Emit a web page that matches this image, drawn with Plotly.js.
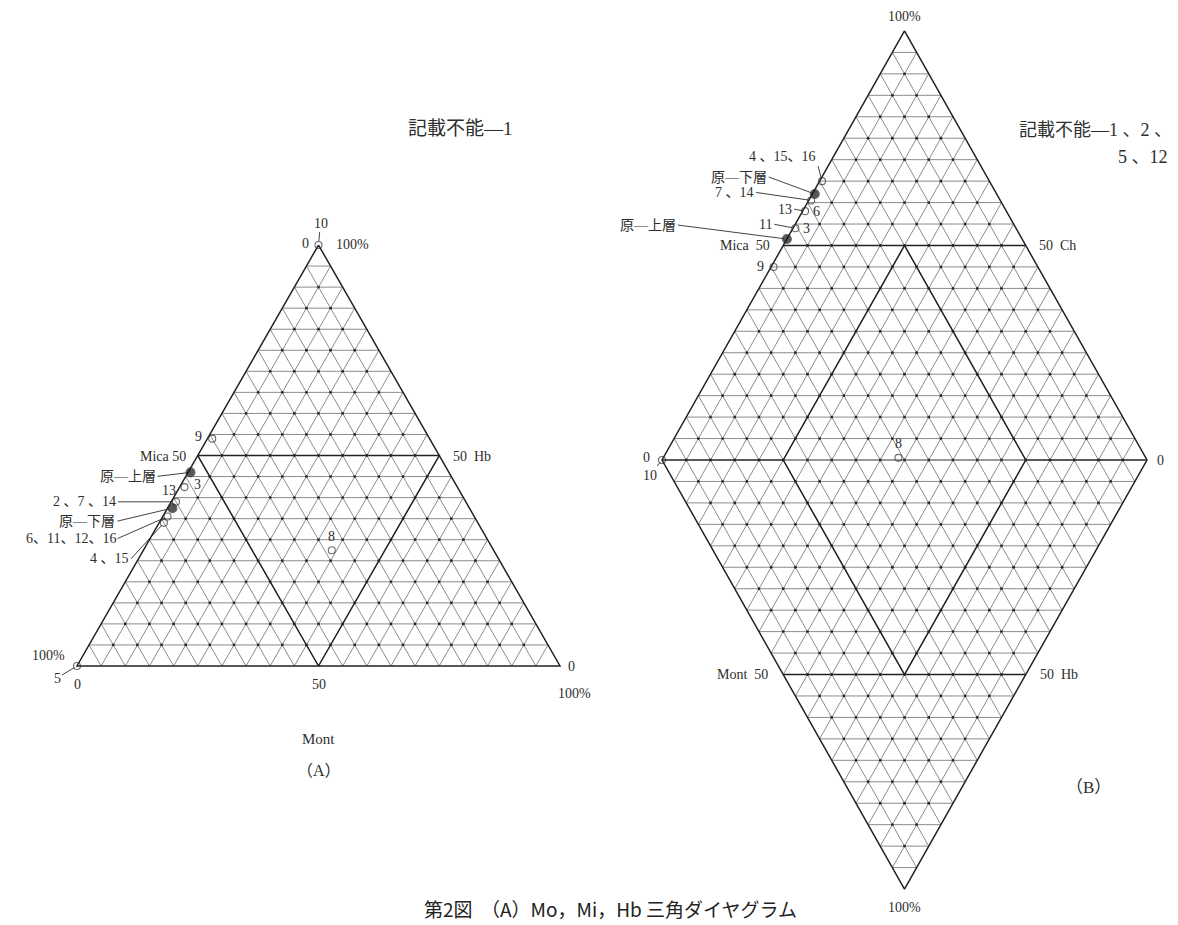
<!DOCTYPE html>
<html>
<head>
<meta charset="utf-8">
<script src="https://cdn.plot.ly/plotly-3.0.1.min.js"></script>
<style>
  html, body { margin: 0; padding: 0; background: #fff; }
  #chart { width: 1178px; height: 925px; }
</style>
</head>
<body>
<div id="chart"></div>
<script>
// (A) Mont - Mica - Hb triangle, %
const aNames = ['10', '9', '原―上層', '13・3', '2 、7 、14', '原―下層', '6、11、12、16', '4 、15', '5', '8'];
const aMica = [0, 45, 53.5, 56.5, 60, 61.5, 63.5, 65, 100, 33.5];
const aHb   = [100, 54, 46, 42.5, 39, 37.5, 35.5, 34, 0, 27.5];
const aMont = [0, 1, 0.5, 1, 1, 1, 1, 1, 0, 39];

// (B) diamond, upper triangle shares: top vertex / left vertex / right vertex
const bNames = ['4 、15、16', '原―下層', '7 、14', '13・6', '11・3', '原―上層', '9', '8', '10'];
const bTop   = [65, 62, 60.5, 58, 54, 51.5, 45, 0.5, 0];
const bLeft  = [34.5, 37.5, 39, 41.5, 45.5, 48.5, 54.5, 51, 100];
const bRight = [0.5, 0.5, 0.5, 0.5, 0.5, 0, 0.5, 48.5, 0];

const SQ = Math.sqrt(3) / 2;
const INK = '#2e2e2e';
const SERIF = 'Liberation Serif, Noto Sans CJK JP, serif';
const W = 1178, H = 925;

// ternary -> cartesian (side = 100)
const aX = aMont.map((m, i) => m + aHb[i] / 2);
const aY = aHb.map(h => h * SQ);
const bX = bRight.map((r, i) => (r - bLeft[i]) / 2);
const bY = bTop.map(t => t * SQ);

function lerp(p, q, f) { return [p[0] + (q[0] - p[0]) * f, p[1] + (q[1] - p[1]) * f]; }
function mid(p, q) { return lerp(p, q, 0.5); }
function seg(acc, p, q) { acc.x.push(p[0], q[0], null); acc.y.push(p[1], q[1], null); }
function path(acc, pts) { pts.forEach(p => { acc.x.push(p[0]); acc.y.push(p[1]); }); acc.x.push(null); acc.y.push(null); }

// 5 % lattice inside a triangle
function triGrid(P, Q, R, n, acc) {
  for (let k = 1; k < n; k++) {
    const f = k / n;
    seg(acc, lerp(P, Q, f), lerp(P, R, f));
    seg(acc, lerp(Q, P, f), lerp(Q, R, f));
    seg(acc, lerp(R, P, f), lerp(R, Q, f));
  }
}
function triNodes(P, Q, R, n, acc, withBase) {
  for (let i = 1; i < n; i++) {
    for (let j = 1; i + j <= n; j++) {
      if (i + j === n && !withBase) continue;
      const a = lerp(P, Q, i / n);
      acc.x.push(a[0] + (R[0] - P[0]) * j / n);
      acc.y.push(a[1] + (R[1] - P[1]) * j / n);
    }
  }
}

// ---- geometry A
const aBL = [0, 0], aBR = [100, 0], aTop = [50, 100 * SQ];
const aGrid = {x: [], y: []}, aDots = {x: [], y: []}, aBold = {x: [], y: []};
triGrid(aTop, aBL, aBR, 20, aGrid);
triNodes(aTop, aBL, aBR, 20, aDots, false);
path(aBold, [aTop, aBL, aBR, aTop]);
path(aBold, [mid(aTop, aBL), mid(aTop, aBR), mid(aBL, aBR), mid(aTop, aBL)]);

// ---- geometry B
const bT = [0, 100 * SQ], bL = [-50, 0], bR = [50, 0], bB = [0, -100 * SQ], bC = [0, 0];
const bGrid = {x: [], y: []}, bDots = {x: [], y: []}, bBold = {x: [], y: []}, bMed = {x: [], y: []};
triGrid(bT, bL, bR, 20, bGrid);
triGrid(bB, bL, bR, 20, bGrid);
triNodes(bT, bL, bR, 20, bDots, true);
triNodes(bB, bL, bR, 20, bDots, false);
path(bBold, [bT, bL, bB, bR, bT]);
seg(bBold, bL, lerp(bL, bR, 0.25));
seg(bBold, lerp(bL, bR, 0.75), bR);
seg(bMed, lerp(bL, bR, 0.25), lerp(bL, bR, 0.75));
seg(bBold, mid(bT, bL), mid(bT, bR));
seg(bBold, mid(bB, bL), mid(bB, bR));
path(bBold, [mid(bT, bC), lerp(bL, bR, 0.25), mid(bB, bC), lerp(bL, bR, 0.75), mid(bT, bC)]);

function lines(acc, xa, ya, color, width) {
  return {x: acc.x, y: acc.y, xaxis: xa, yaxis: ya, type: 'scatter', mode: 'lines',
    line: {color: color, width: width}, hoverinfo: 'skip'};
}
function dots(acc, xa, ya) {
  return {x: acc.x, y: acc.y, xaxis: xa, yaxis: ya, type: 'scatter', mode: 'markers',
    marker: {size: 2.8, color: '#2a2a2a'}, hoverinfo: 'skip'};
}
function samples(xs, ys, names, xa, ya) {
  const filled = names.map(n => n.startsWith('原'));
  return {
    x: xs, y: ys, xaxis: xa, yaxis: ya, type: 'scatter', mode: 'markers', cliponaxis: false,
    text: names, hoverinfo: 'text',
    marker: {
      symbol: filled.map(f => f ? 'circle' : 'circle-open'),
      size: filled.map(f => f ? 9 : 7),
      color: filled.map(f => f ? '#111' : INK),
      line: {width: 1.1, color: INK}
    }
  };
}

const traces = [
  lines(aGrid, 'x', 'y', '#666', 0.75),
  dots(aDots, 'x', 'y'),
  lines(aBold, 'x', 'y', '#222', 1.5),
  samples(aX, aY, aNames, 'x', 'y'),
  lines(bGrid, 'x2', 'y2', '#666', 0.75),
  dots(bDots, 'x2', 'y2'),
  lines(bMed, 'x2', 'y2', '#333', 1.0),
  lines(bBold, 'x2', 'y2', '#222', 1.5),
  samples(bX, bY, bNames, 'x2', 'y2')
];

// ---- labels
const ann = [];
function font(size, fam) { return {family: fam || SERIF, size: size || 14, color: INK}; }
function note(xr, yr, p, text, o) {
  ann.push(Object.assign({xref: xr, yref: yr, x: p[0], y: p[1], text: text, showarrow: false, font: font()}, o || {}));
}
function lead(xr, yr, p, text, ax, ay, o) {
  ann.push(Object.assign({xref: xr, yref: yr, x: p[0], y: p[1], text: text, showarrow: true,
    ax: ax, ay: ay, arrowhead: 0, arrowwidth: 0.9, arrowcolor: INK, standoff: 3, font: font()}, o || {}));
}
function paper(px, py, text, o) {
  ann.push(Object.assign({xref: 'paper', yref: 'paper', x: px / W, y: 1 - py / H, text: text,
    showarrow: false, xanchor: 'center', yanchor: 'middle', font: font()}, o || {}));
}
const aP = i => [aX[i], aY[i]];
const bP = i => [bX[i], bY[i]];
const sp = '\u00a0';

// A
lead('x', 'y', aP(0), aNames[0], 2, -22, {standoff: 4});
note('x', 'y', aTop, '0', {xanchor: 'right', xshift: -8, yshift: 2});
note('x', 'y', aTop, '100%', {xanchor: 'left', xshift: 15, yshift: 1});
note('x', 'y', aP(1), aNames[1], {xanchor: 'right', xshift: -8, yshift: 2});
note('x', 'y', mid(aTop, aBL), 'Mica' + sp + '50', {xanchor: 'right', xshift: -10, yshift: -1});
note('x', 'y', mid(aTop, aBR), '50' + sp + sp + 'Hb', {xanchor: 'left', xshift: 12, yshift: -1});
lead('x', 'y', aP(2), aNames[2], -33, 4, {xanchor: 'right'});
note('x', 'y', aP(3), aNames[3].split('・')[0], {xanchor: 'right', xshift: -6, yshift: -3});
note('x', 'y', aP(3), aNames[3].split('・')[1], {xanchor: 'left', xshift: 8, yshift: 3});
lead('x', 'y', aP(4), aNames[4], -58, 0, {xanchor: 'right'});
lead('x', 'y', aP(5), aNames[5], -55, 13, {xanchor: 'right'});
lead('x', 'y', aP(6), aNames[6], -50, 22, {xanchor: 'right'});
lead('x', 'y', aP(7), aNames[7], -33, 36, {xanchor: 'right'});
lead('x', 'y', aP(8), aNames[8], -20, 12);
note('x', 'y', aP(9), aNames[9], {yshift: 14});
note('x', 'y', aBL, '100%', {xanchor: 'right', xshift: -10, yshift: 11});
note('x', 'y', aBL, '0', {yanchor: 'top', yshift: -9});
note('x', 'y', mid(aBL, aBR), '50', {yanchor: 'top', yshift: -9});
note('x', 'y', aBR, '0', {xanchor: 'left', xshift: 6});
note('x', 'y', aBR, '100%', {xshift: 14, yshift: -27});
note('x', 'y', mid(aBL, aBR), 'Mont', {yshift: -73, font: font(15)});
note('x', 'y', mid(aBL, aBR), '（A）', {yshift: -104, font: font(16)});
paper(460, 128, '記載不能―1', {font: font(19)});

// B
note('x2', 'y2', bT, '100%', {yanchor: 'bottom', yshift: 5});
note('x2', 'y2', bB, '100%', {yanchor: 'top', yshift: -9});
lead('x2', 'y2', bP(0), bNames[0], -4, -15, {xanchor: 'right', yanchor: 'bottom'});
lead('x2', 'y2', bP(1), bNames[1], -46, -17, {xanchor: 'right'});
lead('x2', 'y2', bP(2), bNames[2], -55, -8, {xanchor: 'right'});
lead('x2', 'y2', bP(3), bNames[3].split('・')[0], -11, -2, {xanchor: 'right'});
note('x2', 'y2', bP(3), bNames[3].split('・')[1], {xanchor: 'left', xshift: 6});
lead('x2', 'y2', bP(4), bNames[4].split('・')[0], -21, -4, {xanchor: 'right'});
note('x2', 'y2', bP(4), bNames[4].split('・')[1], {xanchor: 'left', xshift: 6});
lead('x2', 'y2', bP(5), bNames[5], -109, -14, {xanchor: 'right'});
note('x2', 'y2', bP(6), bNames[6], {xanchor: 'right', xshift: -8});
note('x2', 'y2', bP(7), bNames[7], {yshift: 14});
lead('x2', 'y2', bP(8), bNames[8], -12, 15);
note('x2', 'y2', bL, '0', {xanchor: 'right', xshift: -10, yshift: 3});
note('x2', 'y2', bR, '0', {xanchor: 'left', xshift: 8});
note('x2', 'y2', mid(bT, bL), 'Mica' + sp + sp + '50', {xanchor: 'right', xshift: -11});
note('x2', 'y2', mid(bT, bR), '50' + sp + sp + 'Ch', {xanchor: 'left', xshift: 11});
note('x2', 'y2', mid(bB, bL), 'Mont' + sp + sp + '50', {xanchor: 'right', xshift: -13});
note('x2', 'y2', mid(bB, bR), '50' + sp + sp + 'Hb', {xanchor: 'left', xshift: 12});
paper(1174, 130, '記載不能―1 、2 、', {xanchor: 'right', font: font(18)});
paper(1170, 157, '5 、12', {xanchor: 'right', font: font(18)});
paper(1088, 787, '（B）', {font: font(17)});

// figure caption
paper(610, 908, '第2図' + sp + sp + '（A）Mo，Mi，Hb 三角ダイヤグラム',
  {font: {family: 'Noto Sans CJK JP, sans-serif', size: 19, color: '#222'}});

// pixel frames of the two diagrams -> axis domains
const frameA = {x0: 77, y0: 666, sx: 4.83, sy: 4.861, xr: [-15, 115], yr: [-12, 100]};
const frameB = {x0: 904.5, y0: 460, sx: 4.85, sy: 4.954, xr: [-52.5, 56], yr: [-92, 92]};
function xdom(f) { return [(f.x0 + f.xr[0] * f.sx) / W, (f.x0 + f.xr[1] * f.sx) / W]; }
function ydom(f) { return [1 - (f.y0 - f.yr[0] * f.sy) / H, 1 - (f.y0 - f.yr[1] * f.sy) / H]; }
const hidden = {visible: false, showgrid: false, zeroline: false, fixedrange: true};

const layout = {
  width: W, height: H,
  margin: {l: 0, r: 0, t: 0, b: 0},
  paper_bgcolor: '#fff', plot_bgcolor: 'rgba(0,0,0,0)',
  showlegend: false,
  xaxis: Object.assign({domain: xdom(frameA), range: frameA.xr, anchor: 'y'}, hidden),
  yaxis: Object.assign({domain: ydom(frameA), range: frameA.yr, anchor: 'x'}, hidden),
  xaxis2: Object.assign({domain: xdom(frameB), range: frameB.xr, anchor: 'y2'}, hidden),
  yaxis2: Object.assign({domain: ydom(frameB), range: frameB.yr, anchor: 'x2'}, hidden),
  annotations: ann
};

Plotly.newPlot('chart', traces, layout, {displayModeBar: false, staticPlot: true});
</script>
</body>
</html>
